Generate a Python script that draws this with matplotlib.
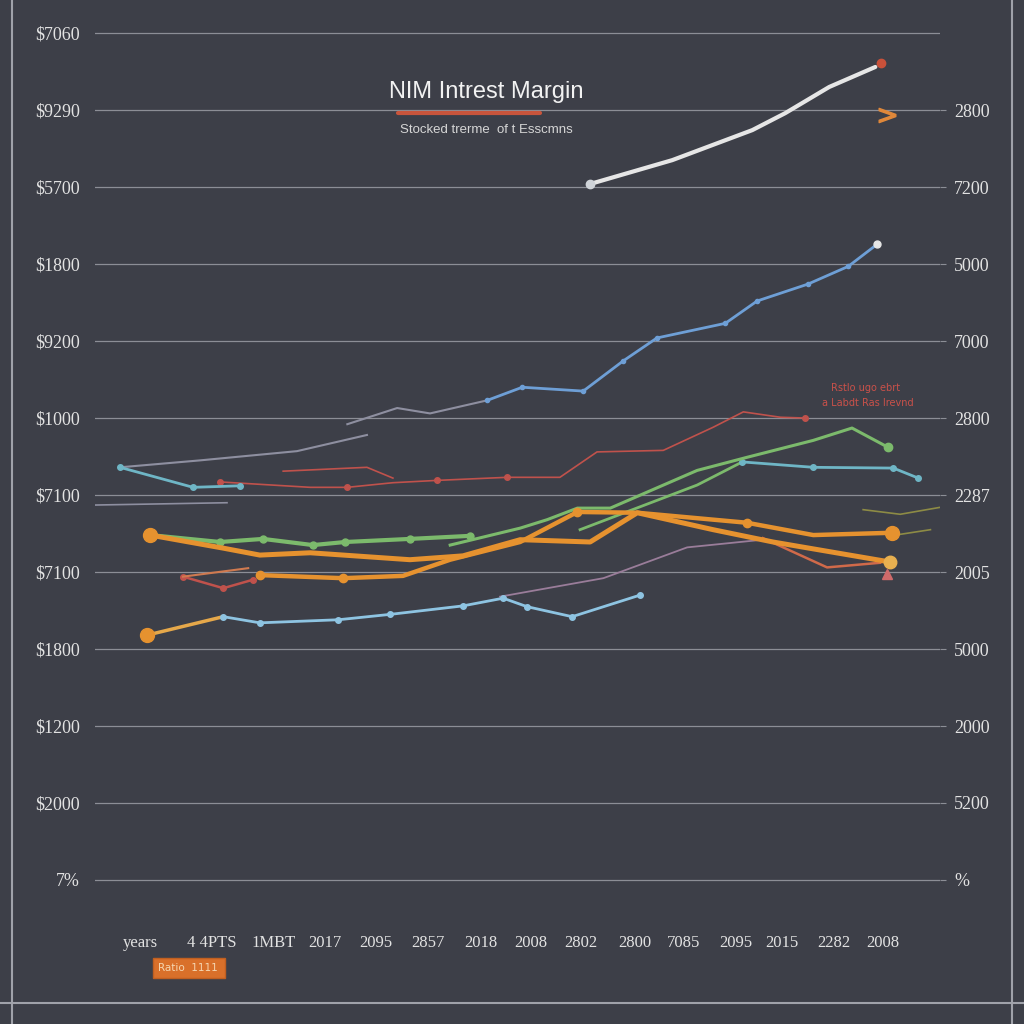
import numpy as np
import matplotlib
matplotlib.use('Agg')
import matplotlib.pyplot as plt
from matplotlib.lines import Line2D

BG = '#3d3f48'
GRID = '#8c8e96'

# ---- data (x = year slot, y = grid level) ----
year_pos = [0, 1.36, 2.51, 3.49, 4.45, 5.43, 6.43, 7.38, 8.32, 9.34, 10.26, 11.23, 12.11, 13.09, 14.02]
year_labels = ['years', '4 4PTS', '1MBT', '2017', '2095', '2857', '2018', '2008',
               '2802', '2800', '7085', '2095', '2015', '2282', '2008']
levels = list(range(12))
left_labels = ['7%', '$2000', '$1200', '$1800', '$7100', '$7100', '$1000',
               '$9200', '$1800', '$5700', '$9290', '$7060']
right_labels = {0: '%', 1: '5200', 2: '2000', 3: '5000', 4: '2005', 5: '2287',
                6: '2800', 7: '7000', 8: '5000', 9: '7200', 10: '2800'}

white_x = [8.49, 10.04, 11.55, 12.17, 13.0, 13.87]
white_y = [9.04, 9.35, 9.74, 9.96, 10.30, 10.56]

grey_up_x = [3.91, 4.85, 5.47, 6.55]
grey_up_y = [5.92, 6.13, 6.06, 6.23]
blue_up_x = [6.55, 7.21, 8.36, 9.11, 9.75, 11.04, 11.64, 12.60, 13.36, 13.91]
blue_up_y = [6.23, 6.40, 6.35, 6.74, 7.04, 7.23, 7.52, 7.74, 7.97, 8.26]

grey2_x = [-0.38, 1.13, 2.96, 4.28]
grey2_y = [5.36, 5.45, 5.57, 5.78]
grey3_x = [-0.85, 1.64]
grey3_y = [4.87, 4.90]

teal_l_x = [-0.38, 1.0, 1.89]
teal_l_y = [5.36, 5.10, 5.12]
green_b_x = [8.3, 10.51, 11.36]
green_b_y = [4.55, 5.13, 5.43]
teal_r_x = [11.36, 12.70, 14.21, 14.68]
teal_r_y = [5.43, 5.36, 5.35, 5.22]

green_l_x = [0.19, 1.51, 2.32, 3.26, 3.87, 5.09, 6.23]
green_l_y = [4.48, 4.39, 4.43, 4.35, 4.39, 4.43, 4.47]
green_a_x = [5.85, 7.17, 7.68, 8.25, 8.87, 10.51, 11.45, 12.70, 13.43, 14.11]
green_a_y = [4.35, 4.57, 4.68, 4.83, 4.83, 5.32, 5.49, 5.71, 5.87, 5.62]

orange1_x = [0.19, 1.57, 2.26, 3.21, 5.09, 6.09, 7.17, 8.49, 9.38, 10.81, 11.94, 14.15]
orange1_y = [4.48, 4.31, 4.22, 4.25, 4.16, 4.21, 4.42, 4.39, 4.77, 4.55, 4.39, 4.13]
orange2_x = [2.26, 3.83, 4.96, 5.85, 7.17, 8.25, 9.38, 11.45, 12.70, 14.19]
orange2_y = [3.96, 3.92, 3.95, 4.16, 4.39, 4.78, 4.77, 4.64, 4.48, 4.51]

red_x = [1.51, 3.21, 3.91, 4.77, 5.60, 6.92, 7.92, 8.62, 9.87, 10.81, 11.38, 12.08, 12.55]
red_y = [5.17, 5.10, 5.10, 5.16, 5.19, 5.23, 5.23, 5.56, 5.58, 5.88, 6.08, 6.01, 6.00]
red2_x = [2.70, 4.28, 4.77]
red2_y = [5.31, 5.36, 5.22]
red3_x = [0.81, 1.57, 2.13]
red3_y = [3.94, 3.79, 3.90]
red4_x = [11.75, 12.96, 13.96]
red4_y = [4.44, 4.06, 4.12]

purple_x = [6.79, 8.74, 10.32, 11.75]
purple_y = [3.68, 3.92, 4.32, 4.42]

orange3_x = [0.13, 1.57]
orange3_y = [3.18, 3.42]
blue_lo_x = [1.57, 2.26, 3.74, 4.72, 6.09, 6.85, 7.30, 8.15, 9.43]
blue_lo_y = [3.42, 3.34, 3.38, 3.45, 3.56, 3.66, 3.55, 3.42, 3.70]

olive1_x = [13.64, 14.34, 15.09]
olive1_y = [4.81, 4.75, 4.84]
olive2_x = [14.25, 14.91]
olive2_y = [4.48, 4.55]

fig = plt.figure(figsize=(10.24, 10.24), dpi=100, facecolor=BG)
W = H = 1024.0
ax = fig.add_axes([95 / W, 1 - 900 / H, 845 / W, 880 / H], facecolor=BG)
ax.set_xlim(-0.85, 15.09)
ax.set_ylim(-0.26, 11.17)

for lv in levels:
    ax.axhline(lv, color=GRID, lw=0.9, zorder=1)

ax.plot(white_x, white_y, color='#e6e6e6', lw=3, solid_capstyle='round', zorder=5)
ax.plot(white_x[0], white_y[0], 'o', color='#cfd3d8', ms=6, zorder=6)
ax.plot(13.98, 10.61, 'o', color='#c9513a', ms=6, zorder=6)
ax.plot(14.09, 9.94, marker='$>$', color='#e0883a', ms=12, zorder=6)

ax.plot(grey_up_x, grey_up_y, color='#8e8fa0', lw=1.5, zorder=3)
ax.plot(blue_up_x, blue_up_y, color='#6e9fd6', lw=2, marker='o', ms=3, zorder=4)
ax.plot(blue_up_x[-1], blue_up_y[-1], 'o', color='#e6e6e6', ms=5, zorder=5)
ax.plot(grey2_x, grey2_y, color='#8e8fa0', lw=1.5, zorder=3)
ax.plot(grey3_x, grey3_y, color='#8e8fa0', lw=1.2, zorder=3)

ax.plot(teal_l_x, teal_l_y, color='#6fb6c6', lw=2, marker='o', ms=4, zorder=4)
ax.plot(green_b_x, green_b_y, color='#7cba6c', lw=2, zorder=4)
ax.plot(teal_r_x, teal_r_y, color='#6fb6c6', lw=2, marker='o', ms=4, zorder=4)

ax.plot(green_l_x, green_l_y, color='#7cba6c', lw=3, marker='o', ms=5, zorder=4)
ax.plot(green_a_x, green_a_y, color='#7cba6c', lw=2.2, zorder=4)
ax.plot(green_a_x[-1], green_a_y[-1], 'o', color='#7cba6c', ms=6, zorder=4)

ax.plot(orange1_x, orange1_y, color='#e6922f', lw=3.6, solid_capstyle='round', zorder=4)
ax.plot(orange1_x[0], orange1_y[0], 'o', color='#e6922f', ms=10, zorder=5)
ax.plot(orange1_x[-1], orange1_y[-1], 'o', color='#e8b050', ms=9, zorder=5)
ax.plot(orange2_x, orange2_y, color='#e6922f', lw=3.2, marker='o', ms=6, markevery=[0, 1, 5, 7], zorder=4)
ax.plot(orange2_x[-1], orange2_y[-1], 'o', color='#e6922f', ms=10, zorder=5)

ax.plot(red_x, red_y, color='#c0524c', lw=1.2, marker='o', ms=4, markevery=[0, 2, 4, 5, 12], zorder=3)
ax.plot(red2_x, red2_y, color='#c0524c', lw=1.2, zorder=3)
ax.plot(red3_x, red3_y, color='#c0524c', lw=1.8, marker='o', ms=4, zorder=3)
ax.plot([0.81, 2.04], [3.94, 4.05], color='#d07a50', lw=1.5, zorder=3)
ax.plot(red4_x, red4_y, color='#d06a4a', lw=1.8, zorder=3)
ax.plot(14.09, 3.97, marker='^', color='#d06a6a', ms=7, zorder=3)

ax.plot(purple_x, purple_y, color='#9a7d9a', lw=1.3, zorder=3)

ax.plot(orange3_x, orange3_y, color='#e6a84a', lw=2.5, zorder=4)
ax.plot(orange3_x[0], orange3_y[0], 'o', color='#e6922f', ms=10, zorder=5)
ax.plot(blue_lo_x, blue_lo_y, color='#8ec4e2', lw=2, marker='o', ms=4, zorder=4)

ax.plot(olive1_x, olive1_y, color='#8d8b45', lw=1.2, zorder=3)
ax.plot(olive2_x, olive2_y, color='#8d8b45', lw=1.2, zorder=3)

# axes / ticks
for s in ax.spines.values():
    s.set_visible(False)
ax.set_yticks(levels)
ax.set_yticklabels(left_labels, family='Liberation Serif', fontsize=13, color='#e2e2e2')
ax.tick_params(axis='y', length=0, pad=11)
ax.set_xticks(year_pos)
ax.set_xticklabels(year_labels, family='Liberation Serif', fontsize=12, color='#e2e2e2')
ax.tick_params(axis='x', length=0, pad=25)

ax2 = ax.twinx()
ax2.set_ylim(ax.get_ylim())
for s in ax2.spines.values():
    s.set_visible(False)
ax2.set_yticks(list(right_labels.keys()))
ax2.set_yticklabels(list(right_labels.values()), family='Liberation Serif', fontsize=13, color='#e2e2e2')
ax2.tick_params(axis='y', length=4, color=GRID, pad=6)

# title block
fig.text(486 / W, 1 - 92 / H, 'NIM Intrest Margin', ha='center', va='center',
         fontsize=17, color='#f2f2f2', family='Liberation Sans')
fig.add_artist(Line2D([398 / W, 540 / W], [1 - 113 / H, 1 - 113 / H], color='#c9553c', lw=3,
                      solid_capstyle='round'))
fig.text(486 / W, 1 - 130 / H, 'Stocked trerme  of t Esscmns', ha='center', va='center',
         fontsize=9.5, color='#d6d6d6', family='Liberation Sans')

fig.text(866 / W, 1 - 388 / H, 'Rstlo ugo ebrt', ha='center', va='center',
         fontsize=7, color='#c9514a')
fig.text(868 / W, 1 - 403 / H, 'a Labdt Ras Irevnd', ha='center', va='center',
         fontsize=7, color='#c9514a')

fig.text(189 / W, 1 - 968 / H, 'Ratio  1111 ', ha='center', va='center', fontsize=7.5,
         color='#f5d6b0', bbox=dict(boxstyle='square,pad=0.45', fc='#d9702a', ec='#c05f20'))

# outer frame
fig.add_artist(Line2D([12 / W, 12 / W], [0, 1], color='#a0a2aa', lw=1.5))
fig.add_artist(Line2D([1012 / W, 1012 / W], [0, 1], color='#a0a2aa', lw=1.5))
fig.add_artist(Line2D([0, 1], [1 - 1003 / H, 1 - 1003 / H], color='#a0a2aa', lw=1.5))

fig.savefig('out.png', dpi=100, facecolor=BG)
